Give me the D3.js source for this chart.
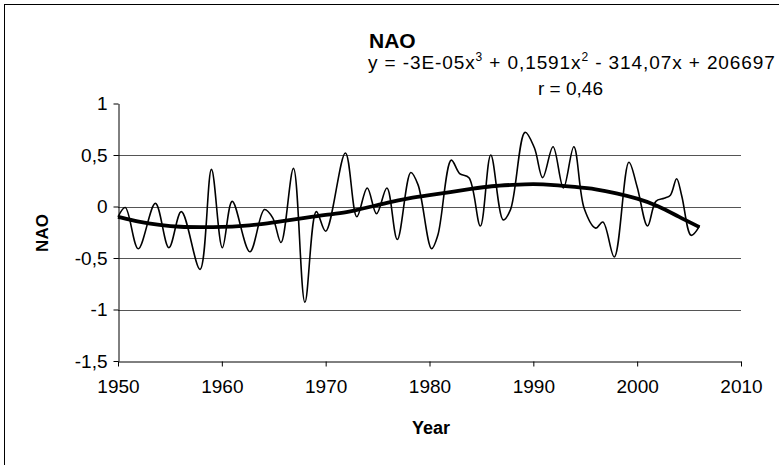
<!DOCTYPE html>
<html>
<head>
<meta charset="utf-8">
<script src="https://cdn.jsdelivr.net/npm/d3@7"></script>
<style>
  body { margin: 0; background: #fff; }
  text { font-family: "Liberation Sans", Arial, sans-serif; fill: #000; }
</style>
</head>
<body>
<div id="chart"></div>
<script>
// NAO index (smoothed)
const naoYears = [1950.0, 1950.7, 1951.95, 1953.6, 1954.9, 1956.1, 1957.9, 1959.0, 1960.05,
  1961.0, 1962.7, 1964.1, 1964.9, 1965.7, 1966.9, 1968.0, 1969.1, 1970.0,
  1971.9, 1973.0, 1974.0, 1974.9, 1975.9, 1976.9, 1978.2, 1978.9, 1980.2, 1980.8,
  1982.1, 1982.9, 1983.8, 1984.9, 1985.9, 1987.1, 1987.8, 1989.2, 1990.1, 1990.9,
  1991.9, 1992.9, 1993.9, 1994.9, 1996.0, 1996.7, 1997.8, 1999.2, 2000.0, 2001.0,
  2001.8, 2002.6, 2003.2, 2003.8, 2004.3, 2005.2, 2006.0];
const naoValues = [-0.10, -0.01, -0.41, 0.03, -0.40, -0.05, -0.61, 0.36, -0.40,
  0.05, -0.44, -0.03, -0.11, -0.35, 0.37, -0.93, -0.05, -0.24,
  0.52, -0.10, 0.18, -0.07, 0.18, -0.32, 0.33, 0.21, -0.41, -0.28,
  0.45, 0.32, 0.28, -0.19, 0.50, -0.13, -0.03, 0.72, 0.57, 0.28,
  0.58, 0.18, 0.58, -0.02, -0.21, -0.15, -0.49, 0.43, 0.19, -0.19,
  0.05, 0.08, 0.11, 0.27, 0.10, -0.28, -0.19];

// polynomial trend line
const trendYears = [1950, 1952, 1954, 1956, 1958, 1960, 1962, 1964, 1966, 1968, 1970, 1972, 1974,
  1976, 1978, 1980, 1982, 1984, 1986, 1988, 1990, 1992, 1994, 1996, 1998, 2000, 2002, 2004, 2006];
const trendValues = [-0.10, -0.15, -0.18, -0.20, -0.20, -0.20, -0.19, -0.17, -0.14, -0.11, -0.08, -0.06, -0.01,
  0.04, 0.08, 0.11, 0.14, 0.17, 0.20, 0.21, 0.22, 0.21, 0.19, 0.17, 0.13, 0.08, 0.01, -0.10, -0.20];

const xTicks = [1950, 1960, 1970, 1980, 1990, 2000, 2010];
const yTicks = [-1.5, -1, -0.5, 0, 0.5, 1];
const yGrid = [-1, -0.5, 0, 0.5];

const width = 779, height = 465;
const svg = d3.select("#chart").append("svg")
  .attr("width", width)
  .attr("height", height);

// chart frame
svg.append("rect")
  .attr("x", 4.5).attr("y", 4.5)
  .attr("width", width + 10).attr("height", height + 10)
  .attr("fill", "none").attr("stroke", "#000").attr("stroke-width", 1);

const x = d3.scaleLinear().domain([1950, 2010]).range([118, 741]);
const y = d3.scaleLinear().domain([-1.5, 1]).range([361, 103.5]);

const fmt = d => String(d).replace(".", ",");

// gridlines
svg.append("g").selectAll("line")
  .data(yGrid)
  .enter().append("line")
  .attr("x1", x(1950)).attr("x2", x(2010))
  .attr("y1", d => Math.round(y(d)) + 0.5).attr("y2", d => Math.round(y(d)) + 0.5)
  .attr("stroke", "#555").attr("stroke-width", 1);

// axes
const xAxis = svg.append("g")
  .attr("transform", "translate(0," + (Math.round(y(-1.5)) + 0.5) + ")")
  .call(d3.axisBottom(x).tickValues(xTicks).tickSize(5).tickSizeOuter(0).tickPadding(13).tickFormat(d => d));
const yAxis = svg.append("g")
  .attr("transform", "translate(" + (Math.round(x(1950)) + 0.5) + ",0)")
  .call(d3.axisLeft(y).tickValues(yTicks).tickSize(5).tickSizeOuter(0).tickPadding(6).tickFormat(fmt));

[xAxis, yAxis].forEach(g => {
  g.select(".domain").attr("stroke", "#000");
  g.selectAll(".tick line").attr("stroke", "#000");
  g.selectAll("text").style("font-size", "19px").attr("fill", "#000");
});

// series
const line = d3.line()
  .x(d => x(d[0]))
  .y(d => y(d[1]))
  .curve(d3.curveCatmullRom.alpha(0.5));

svg.append("path")
  .datum(d3.zip(naoYears, naoValues))
  .attr("d", line)
  .attr("fill", "none").attr("stroke", "#000").attr("stroke-width", 1.6);

svg.append("path")
  .datum(d3.zip(trendYears, trendValues))
  .attr("d", line.curve(d3.curveBasis))
  .attr("fill", "none").attr("stroke", "#000").attr("stroke-width", 3.8)
  .attr("stroke-linejoin", "round");

// titles
svg.append("text")
  .attr("x", 369).attr("y", 48)
  .style("font-size", "21px").style("font-weight", "bold")
  .text("NAO");

const eq = svg.append("text")
  .attr("x", 368).attr("y", 69)
  .style("font-size", "19px").style("letter-spacing", "0.9px");
eq.append("tspan").text("y = -3E-05x");
eq.append("tspan").attr("dy", -8).style("font-size", "12px").text("3");
eq.append("tspan").attr("dy", 8).text(" + 0,1591x");
eq.append("tspan").attr("dy", -8).style("font-size", "12px").text("2");
eq.append("tspan").attr("dy", 8).text(" - 314,07x + 206697");

svg.append("text")
  .attr("x", 538).attr("y", 95)
  .style("font-size", "19px")
  .text("r = 0,46");

svg.append("text")
  .attr("x", 431).attr("y", 434)
  .attr("text-anchor", "middle")
  .style("font-size", "18px").style("font-weight", "bold")
  .text("Year");

svg.append("text")
  .attr("transform", "translate(48,233) rotate(-90)")
  .attr("text-anchor", "middle")
  .style("font-size", "17px").style("font-weight", "bold")
  .text("NAO");
</script>
</body>
</html>
